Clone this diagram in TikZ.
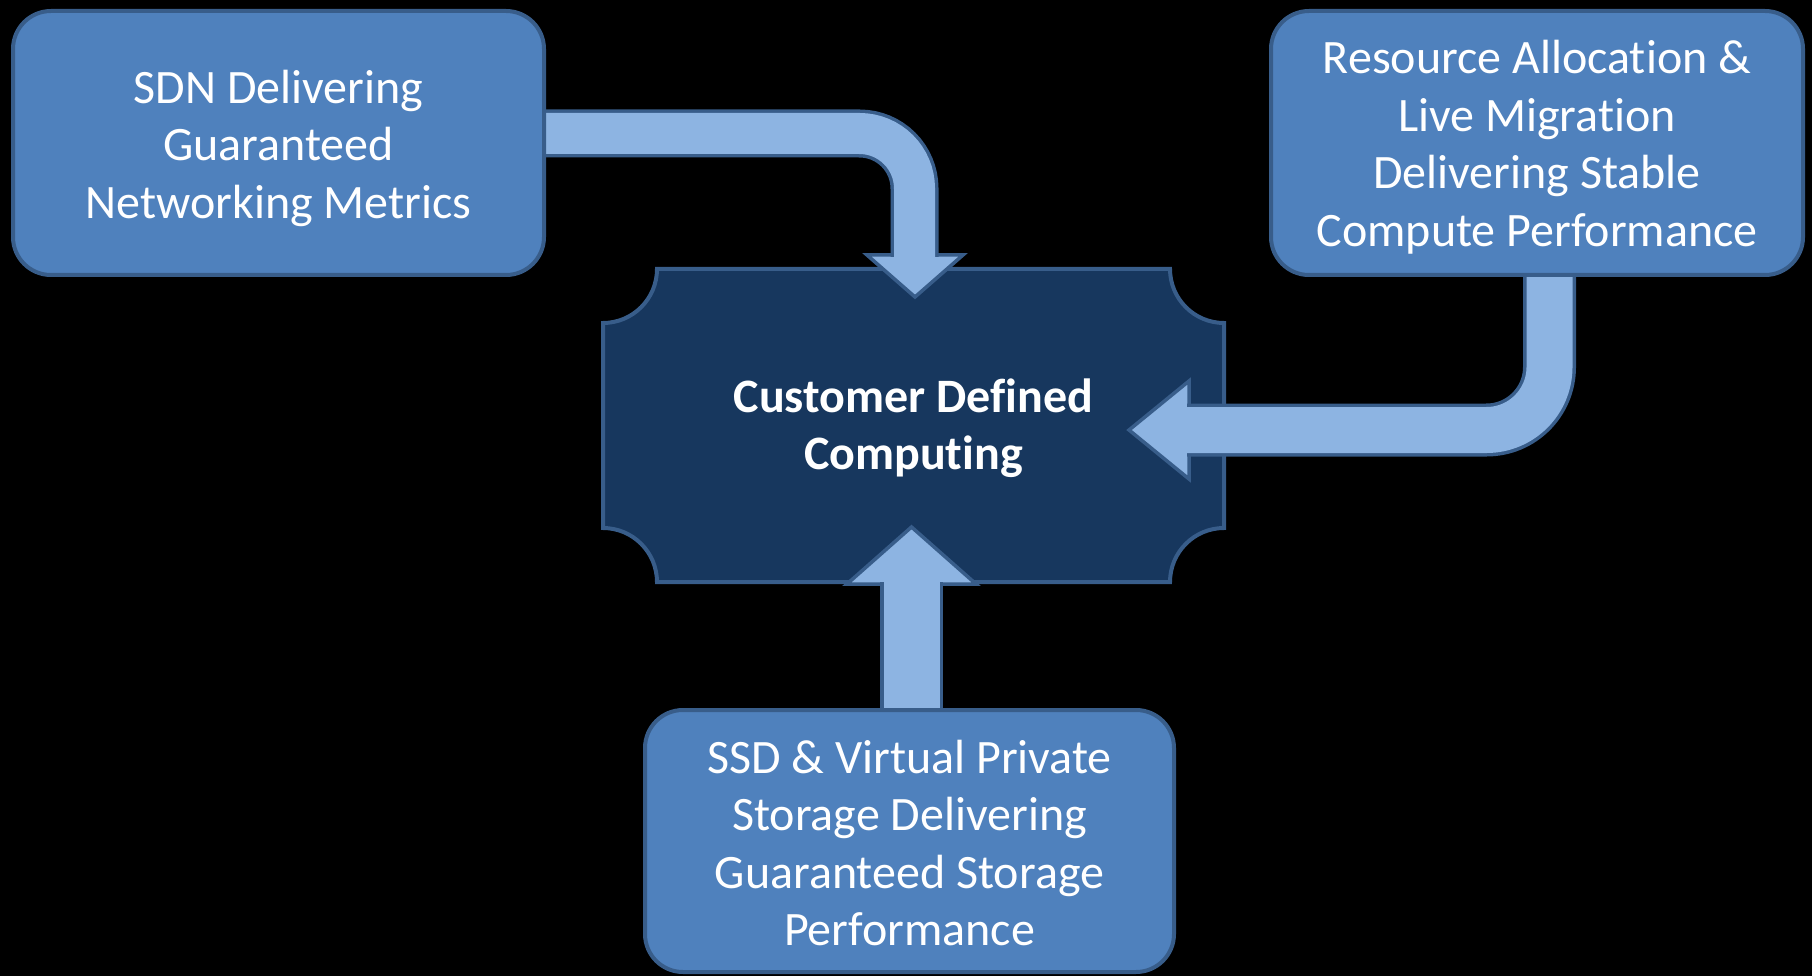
\documentclass[tikz,border=0pt]{standalone}
\usepackage{fontspec}
\setmainfont{Carlito}[Ligatures=NoCommon]
\pgfdeclarelayer{back}
\pgfsetlayers{back,main}
\newcommand{\boxfont}{\fontsize{48pt}{57.5pt}\selectfont}
\newcommand{\topstrut}[1]{\rule{0pt}{#1}}
\begin{document}
\begin{tikzpicture}[x=1pt, y=-1pt,
  box/.style={draw=bord, line width=4pt, fill=boxfill, rounded corners=38pt, text=white, align=center, font=\boxfont, inner sep=0pt},
  band/.style={draw=bord, line width=3.5pt, double=arrfill, double distance=#1},
  head/.style={draw=bord, line width=3.5pt, fill=arrfill}]
\definecolor{boxfill}{HTML}{4F81BD}
\definecolor{bord}{HTML}{385D8A}
\definecolor{arrfill}{HTML}{8DB4E2}
\definecolor{plaquefill}{HTML}{17375E}
\useasboundingbox (0,0) rectangle (1812,976);
\node[box, minimum width=531pt, minimum height=264pt] (sdn) at (278.5,143) {\topstrut{44pt}SDN Delivering\\Guaranteed\\Networking Metrics};
\node[box, minimum width=532pt, minimum height=264pt] (res) at (1537,143) {\topstrut{42pt}Resource Allocation \&\\Live Migration\\Delivering Stable\\Compute Performance};
\node[box, minimum width=529pt, minimum height=262pt] (ssd) at (909.5,841) {\topstrut{37pt}SSD \& Virtual Private\\Storage Delivering\\Guaranteed Storage\\Performance};
\node[text=white, align=center, font=\boxfont\bfseries, minimum width=621pt, minimum height=313pt, inner sep=0pt, outer sep=0pt] (cdc) at (913.5,425.5) {\topstrut{39pt}Customer Defined\\Computing};
\coordinate (nb) at (914.5,257);
\coordinate (eb) at (1187,430);
\coordinate (sb) at (911.5,582);
\begin{pgfonlayer}{back}
\fill[black] (0,0) rectangle (1812,976);
\draw[draw=bord, line width=4pt, fill=plaquefill] ([yshift=-54pt]cdc.north west) .. controls +(29.8pt,0pt) and +(0pt,-29.8pt) .. ([xshift=54pt]cdc.north west)
  -- ([xshift=-54pt]cdc.north east) .. controls +(0pt,-29.8pt) and +(-29.8pt,0pt) .. ([yshift=-54pt]cdc.north east)
  -- ([yshift=54pt]cdc.south east) .. controls +(-29.8pt,0pt) and +(0pt,29.8pt) .. ([xshift=-54pt]cdc.south east)
  -- ([xshift=54pt]cdc.south west) .. controls +(0pt,29.8pt) and +(29.8pt,0pt) .. ([yshift=54pt]cdc.south west) -- cycle;
\draw[head] (867,255) -- (963,255) -- (915,297) -- cycle;
\draw[head] (1189,381) -- (1189,479) -- (1129,430) -- cycle;
\draw[head] (847,584) -- (976,584) -- (911.5,527) -- cycle;
\draw[band=41pt, rounded corners=55pt] (sdn.east |- 0,133.5) -| (nb);
\draw[band=46pt, rounded corners=63pt] (res.south -| 1549.5,0) |- (eb);
\draw[band=56pt] (ssd.north -| 911.5,0) -- (sb);
\end{pgfonlayer}
\end{tikzpicture}
\end{document}
